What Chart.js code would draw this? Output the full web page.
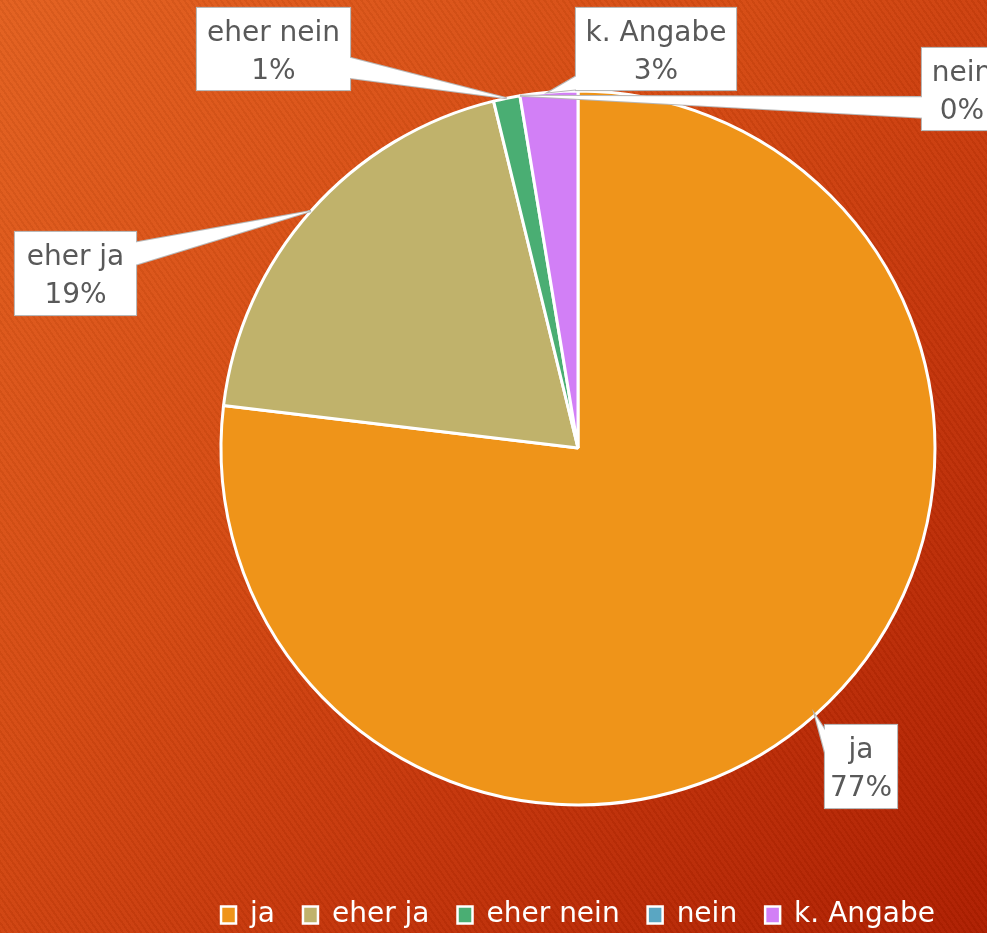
<!DOCTYPE html>
<html>
<head>
<meta charset="utf-8">
<script src="https://cdn.jsdelivr.net/npm/chart.js@4.4.1/dist/chart.umd.min.js"></script>
<style>
  html, body { margin: 0; padding: 0; }
  body {
    width: 987px; height: 933px; overflow: hidden;
    background:
      repeating-linear-gradient(55deg, rgba(0,0,0,0.045) 0px, rgba(0,0,0,0.045) 2px, rgba(255,255,255,0.02) 2px, rgba(255,255,255,0.02) 5px),
      linear-gradient(135deg, #E3601F 0%, #D54A12 40%, #C5350A 65%, #AE1E00 100%);
  }
  #wrap { position: absolute; left: 0; top: 0; width: 987px; height: 933px; }
</style>
</head>
<body>
<div id="wrap"><canvas id="c" width="987" height="933"></canvas></div>
<script>
// ---- data (percent shares) ----
const categories = ["ja", "eher ja", "eher nein", "nein", "k. Angabe"];
const shares = [76.9, 19.3, 1.2, 0, 2.6];
const sliceColors = ["#EF9419", "#C0B26B", "#4AAE73", "#5AA6C2", "#D27FF6"];

// ---- callout styling (positions of the label boxes) ----
const calloutBoxes = [
  {cx: 861,   cy: 766.5, w: 72,  h: 83, side: "left",  f0: 0.10, f1: 0.42},
  {cx: 75.5,  cy: 273.5, w: 121, h: 83, side: "right", f0: 0.13, f1: 0.40},
  {cx: 273.5, cy: 49,    w: 153, h: 82, side: "right", f0: 0.60, f1: 0.85},
  {cx: 962,   cy: 89,    w: 80,  h: 82, side: "left",  f0: 0.60, f1: 0.85},
  {cx: 656,   cy: 49,    w: 160, h: 82, side: "left",  f0: 0.82, f1: 0.99}
];

const FONT = '"DejaVu Sans", Verdana, sans-serif';

const calloutPlugin = {
  id: "callouts",
  afterDatasetsDraw(chart) {
    const ctx = chart.ctx;
    const meta = chart.getDatasetMeta(0);
    const data = chart.data.datasets[0].data;
    const total = data.reduce((a, b) => a + b, 0);
    meta.data.forEach((arc, i) => {
      const b = calloutBoxes[i];
      if (!b) return;
      const p = arc.getProps(["x", "y", "startAngle", "endAngle", "outerRadius"], true);
      const mid = (p.startAngle + p.endAngle) / 2;
      const tipX = p.x + Math.cos(mid) * p.outerRadius;
      const tipY = p.y + Math.sin(mid) * p.outerRadius;
      const left = b.cx - b.w / 2, top = b.cy - b.h / 2;
      let b1, b2;
      if (b.side === "left") {
        b1 = [left + 2, top + b.h * b.f0];
        b2 = [left + 2, top + b.h * b.f1];
      } else {
        b1 = [left + b.w - 2, top + b.h * b.f0];
        b2 = [left + b.w - 2, top + b.h * b.f1];
      }
      ctx.save();
      ctx.lineWidth = 2.2;
      ctx.strokeStyle = "#B8B8B8";
      ctx.fillStyle = "#FFFFFF";
      ctx.lineJoin = "miter";
      ctx.strokeRect(left, top, b.w, b.h);
      ctx.beginPath();
      ctx.moveTo(b1[0], b1[1]);
      ctx.lineTo(tipX, tipY);
      ctx.lineTo(b2[0], b2[1]);
      ctx.stroke();
      ctx.fillRect(left, top, b.w, b.h);
      ctx.beginPath();
      ctx.moveTo(b1[0], b1[1]);
      ctx.lineTo(tipX, tipY);
      ctx.lineTo(b2[0], b2[1]);
      ctx.closePath();
      ctx.fill();
      ctx.fillStyle = "#595959";
      ctx.font = "28px " + FONT;
      ctx.textAlign = "center";
      ctx.textBaseline = "middle";
      const pct = total ? Math.round(data[i] / total * 100) : 0;
      ctx.fillText(chart.data.labels[i], b.cx, top + 26);
      ctx.fillText(pct + "%", b.cx, top + 64);
      ctx.restore();
    });
  }
};

const baseGen = Chart.overrides.pie.plugins.legend.labels.generateLabels;

new Chart(document.getElementById("c"), {
  type: "pie",
  data: {
    labels: categories,
    datasets: [{
      data: shares,
      backgroundColor: sliceColors,
      borderColor: "#FFFFFF",
      borderWidth: 3,
      radius: 357
    }]
  },
  options: {
    responsive: false,
    animation: false,
    layout: { padding: { left: 169, right: 0, top: 23, bottom: -6 } },
    plugins: {
      tooltip: { enabled: false },
      legend: {
        display: true,
        position: "bottom",
        labels: {
          color: "#FFFFFF",
          font: { family: FONT, size: 28 },
          boxWidth: 15,
          boxHeight: 17,
          padding: 28,
          generateLabels(chart) {
            return baseGen(chart).map(l => Object.assign(l, { lineWidth: 2.5, strokeStyle: "#FFFFFF", fontColor: "#FFFFFF" }));
          }
        }
      }
    }
  },
  plugins: [calloutPlugin]
});
</script>
</body>
</html>
